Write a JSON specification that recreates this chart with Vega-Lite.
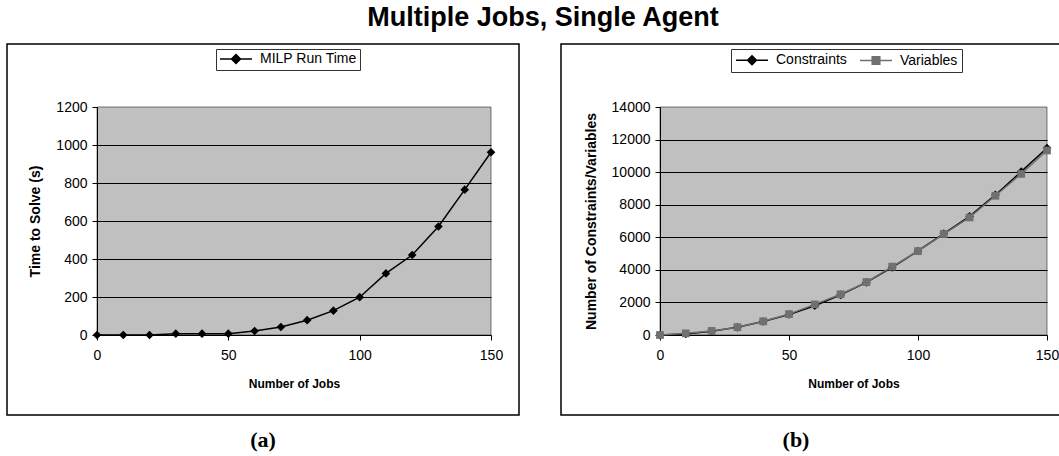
{
  "$schema": "https://vega.github.io/schema/vega-lite/v6.json",
  "padding": {"left": 6, "top": 4, "right": 0, "bottom": 0},
  "background": "white",
  "title": {"text": "Multiple Jobs, Single Agent", "font": "Liberation Sans", "fontSize": 27, "fontWeight": "bold", "color": "black", "anchor": "middle", "offset": 11, "dx": 3},
  "spacing": 40,
  "config": {
    "font": "Liberation Sans",
    "view": {"stroke": "black", "strokeWidth": 1.5},
    "axis": {
      "labelFont": "Liberation Sans", "labelFontSize": 14, "labelColor": "black",
      "titleFont": "Liberation Sans", "titleFontSize": 12, "titleFontWeight": "bold", "titleColor": "black",
      "domainColor": "black", "tickColor": "black", "tickSize": 5, "gridColor": "black", "gridOpacity": 1, "labelFlush": false, "format": "d"
    },
    "legend": {"labelFont": "Liberation Sans", "labelFontSize": 14, "labelColor": "black"}
  },
  "datasets": {
    "milp": [
      {"jobs": 0, "time": 0}, {"jobs": 10, "time": 0}, {"jobs": 20, "time": 0}, {"jobs": 30, "time": 7},
      {"jobs": 40, "time": 7}, {"jobs": 50, "time": 7}, {"jobs": 60, "time": 21}, {"jobs": 70, "time": 42},
      {"jobs": 80, "time": 78}, {"jobs": 90, "time": 128}, {"jobs": 100, "time": 199}, {"jobs": 110, "time": 324},
      {"jobs": 120, "time": 421}, {"jobs": 130, "time": 571}, {"jobs": 140, "time": 765}, {"jobs": 150, "time": 962}
    ],
    "size": [
      {"jobs": 0, "series": "Constraints", "count": 0}, {"jobs": 10, "series": "Constraints", "count": 60},
      {"jobs": 20, "series": "Constraints", "count": 230}, {"jobs": 30, "series": "Constraints", "count": 470},
      {"jobs": 40, "series": "Constraints", "count": 830}, {"jobs": 50, "series": "Constraints", "count": 1260},
      {"jobs": 60, "series": "Constraints", "count": 1800}, {"jobs": 70, "series": "Constraints", "count": 2460},
      {"jobs": 80, "series": "Constraints", "count": 3230}, {"jobs": 90, "series": "Constraints", "count": 4150},
      {"jobs": 100, "series": "Constraints", "count": 5160}, {"jobs": 110, "series": "Constraints", "count": 6230},
      {"jobs": 120, "series": "Constraints", "count": 7280}, {"jobs": 130, "series": "Constraints", "count": 8600},
      {"jobs": 140, "series": "Constraints", "count": 10030}, {"jobs": 150, "series": "Constraints", "count": 11480},
      {"jobs": 0, "series": "Variables", "count": 0}, {"jobs": 10, "series": "Variables", "count": 100},
      {"jobs": 20, "series": "Variables", "count": 250}, {"jobs": 30, "series": "Variables", "count": 480},
      {"jobs": 40, "series": "Variables", "count": 840}, {"jobs": 50, "series": "Variables", "count": 1280},
      {"jobs": 60, "series": "Variables", "count": 1880}, {"jobs": 70, "series": "Variables", "count": 2500},
      {"jobs": 80, "series": "Variables", "count": 3250}, {"jobs": 90, "series": "Variables", "count": 4200},
      {"jobs": 100, "series": "Variables", "count": 5150}, {"jobs": 110, "series": "Variables", "count": 6200},
      {"jobs": 120, "series": "Variables", "count": 7220}, {"jobs": 130, "series": "Variables", "count": 8550},
      {"jobs": 140, "series": "Variables", "count": 9890}, {"jobs": 150, "series": "Variables", "count": 11330}
    ]
  },
  "hconcat": [
    {
      "width": 512,
      "height": 371,
      "title": {"text": "(a)", "orient": "bottom", "font": "Liberation Serif", "fontSize": 22, "fontWeight": "bold", "color": "black", "offset": 15, "anchor": "middle"},
      "layer": [
        {
          "data": {"values": [{}]},
          "mark": {"type": "rect", "fill": "black", "fillOpacity": 0.247, "stroke": "black", "strokeOpacity": 0.5, "strokeWidth": 1},
          "encoding": {
            "x": {"datum": 0, "type": "quantitative", "scale": {"domain": [0, 150], "range": [90, 484], "nice": false, "zero": false}},
            "x2": {"datum": 150},
            "y": {"datum": 0, "type": "quantitative", "scale": {"domain": [0, 1200], "range": [291, 63], "nice": false}},
            "y2": {"datum": 1200}
          }
        },
        {
          "data": {"name": "milp"},
          "encoding": {
            "x": {"field": "jobs", "type": "quantitative",
              "scale": {"domain": [0, 150], "range": [90, 484], "nice": false, "zero": false},
              "axis": {"title": "Number of Jobs", "values": [0, 50, 100, 150], "offset": -80, "grid": false, "labelPadding": 8, "titlePadding": 16}},
            "y": {"field": "time", "type": "quantitative",
              "scale": {"domain": [0, 1200], "range": [291, 63], "nice": false},
              "axis": {"title": "Time to Solve (s)", "titleFontSize": 14, "values": [0, 200, 400, 600, 800, 1000, 1200], "offset": -90, "grid": true, "labelPadding": 5, "titlePadding": 13,
                "gridColor": {"condition": {"test": "datum.value >= 1200", "value": "transparent"}, "value": "black"}}},
            "color": {"datum": "MILP Run Time", "scale": {"range": ["black"]},
              "legend": {"title": null, "orient": "none", "legendX": 209, "legendY": 5, "direction": "horizontal",
                "strokeColor": "#333333", "fillColor": "white", "padding": 3, "labelOffset": 27,
                "symbolType": "M-1,0H4.333M1.667,-0.75L2.417,0L1.667,0.75L0.917,0Z", "symbolSize": 144, "symbolStrokeWidth": 1.5,
                "encode": {"symbols": {"update": {"fill": {"value": "black"}, "stroke": {"value": "black"}, "opacity": {"value": 1},
                  "shape": {"value": "M-1,0H4.333M1.667,-0.75L2.417,0L1.667,0.75L0.917,0Z"}, "size": {"value": 144}, "strokeWidth": {"value": 1.5}}}}}}
          },
          "layer": [
            {"mark": {"type": "line", "strokeWidth": 1.5}},
            {"mark": {"type": "point", "shape": "diamond", "filled": true, "size": 75, "opacity": 1}}
          ]
        }
      ]
    },
    {
      "width": 512,
      "height": 371,
      "title": {"text": "(b)", "orient": "bottom", "font": "Liberation Serif", "fontSize": 22, "fontWeight": "bold", "color": "black", "offset": 15, "anchor": "middle", "dx": -21},
      "layer": [
        {
          "data": {"values": [{}]},
          "mark": {"type": "rect", "fill": "black", "fillOpacity": 0.247, "stroke": "black", "strokeOpacity": 0.5, "strokeWidth": 1},
          "encoding": {
            "x": {"datum": 0, "type": "quantitative", "scale": {"domain": [0, 150], "range": [99, 486], "nice": false, "zero": false}},
            "x2": {"datum": 150},
            "y": {"datum": 0, "type": "quantitative", "scale": {"domain": [0, 14000], "range": [291, 63], "nice": false}},
            "y2": {"datum": 14000}
          }
        },
        {
          "data": {"name": "size"},
          "encoding": {
            "x": {"field": "jobs", "type": "quantitative",
              "scale": {"domain": [0, 150], "range": [99, 486], "nice": false, "zero": false},
              "axis": {"title": "Number of Jobs", "values": [0, 50, 100, 150], "offset": -80, "grid": false, "labelPadding": 8, "titlePadding": 16}},
            "y": {"field": "count", "type": "quantitative",
              "scale": {"domain": [0, 14000], "range": [291, 63], "nice": false},
              "axis": {"title": "Number of Constraints/Variables", "titleFontSize": 14, "values": [0, 2000, 4000, 6000, 8000, 10000, 12000, 14000], "offset": -99, "grid": true, "labelPadding": 5, "titlePadding": 13,
                "gridColor": {"condition": {"test": "datum.value >= 14000", "value": "transparent"}, "value": "black"}}},
            "color": {"field": "series", "type": "nominal", "scale": {"domain": ["Constraints", "Variables"], "range": ["black", "#707070"]},
              "legend": {"title": null, "orient": "none", "legendX": 170, "legendY": 5, "direction": "horizontal",
                "strokeColor": "#333333", "fillColor": "white", "padding": 4, "labelOffset": 27, "columnPadding": 10,
                "symbolType": "M-1,0H4.333M1.667,-0.75L2.417,0L1.667,0.75L0.917,0Z", "symbolSize": 144, "symbolStrokeWidth": 1.5,
                "encode": {"symbols": {"update": {
                  "fill": {"signal": "datum.value === 'Constraints' ? 'black' : '#707070'"},
                  "stroke": {"signal": "datum.value === 'Constraints' ? 'black' : '#707070'"},
                  "opacity": {"value": 1},
                  "shape": {"signal": "datum.value === 'Constraints' ? 'M-1,0H4.333M1.667,-0.75L2.417,0L1.667,0.75L0.917,0Z' : 'M-1,0H4.333M1.033,-0.633H2.3V0.633H1.033Z'"},
                  "size": {"value": 144}, "strokeWidth": {"value": 1.5}}}}}}
          },
          "layer": [
            {"mark": {"type": "line", "strokeWidth": 1.5}},
            {"transform": [{"filter": "datum.series === 'Constraints'"}],
              "mark": {"type": "point", "shape": "diamond", "filled": true, "size": 75, "opacity": 1}},
            {"transform": [{"filter": "datum.series === 'Variables'"}],
              "mark": {"type": "point", "shape": "square", "filled": true, "size": 60, "opacity": 1}}
          ]
        }
      ]
    }
  ],
  "resolve": {"scale": {"color": "independent", "x": "independent", "y": "independent"}, "legend": {"color": "independent"}}
}
